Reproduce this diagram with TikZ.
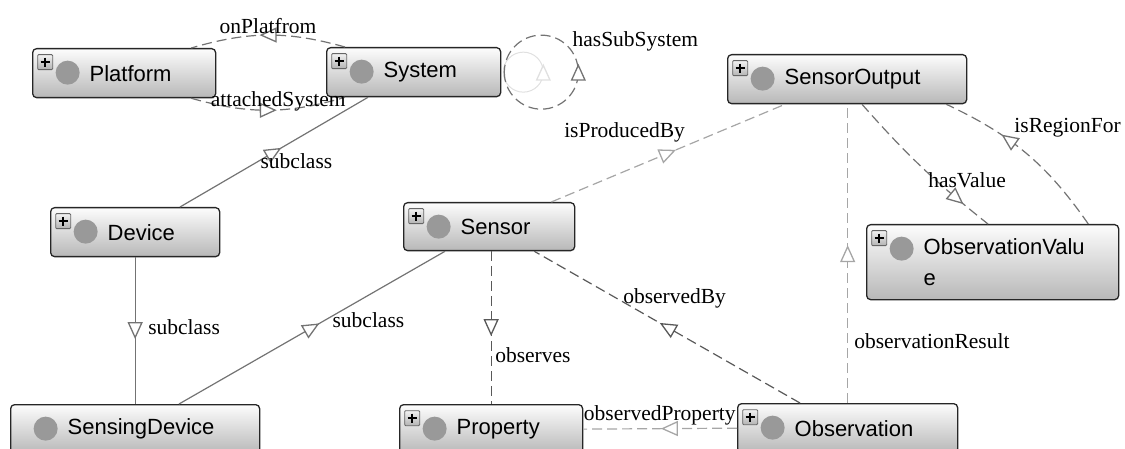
\documentclass[tikz,border=0pt]{standalone}
\usepackage{fontspec}
\setmainfont{Liberation Serif}
\setsansfont{Liberation Sans}
\usetikzlibrary{arrows.meta, decorations.markings, positioning}

\newcommand{\dotmark}{\fill[black!40] ([shift={(35pt,-24pt)}]path picture bounding box.north west) circle (12pt);}
\newcommand{\plusbox}{%
	\draw[black!60, line width=0.8pt, rounded corners=1pt, top color=black!5, bottom color=black!30]
		([shift={(5pt,-6pt)}]path picture bounding box.north west) rectangle +(15pt,-15pt);
	\draw[black, line width=1.6pt]
		([shift={(8pt,-13.5pt)}]path picture bounding box.north west) -- +(9pt,0)
		([shift={(12.5pt,-9pt)}]path picture bounding box.north west) -- +(0,-9pt);}

\begin{document}
\begin{tikzpicture}[x=1pt, y=1pt,
	cls/.style={draw=black!85, line width=1.3pt, rounded corners=4pt, top color=black!1, bottom color=black!28,
		anchor=north west, inner sep=0pt, align=left, text width=#1, minimum height=49pt,
		font=\sffamily\fontsize{22}{31}\selectfont, execute at begin node=\hspace*{57pt},
		path picture={\dotmark\plusbox}},
	lbl/.style={font=\fontsize{21.5}{24}\selectfont, inner sep=0pt, text=black},
	tri/.tip={Triangle[length=17pt 0 0, width=15pt 0 0, fill=white, line width=1.3pt 0]},
	midtri/.style={postaction={decorate, decoration={markings, mark=at position #1 with {\arrow[xshift=8.5pt]{tri}}}}},
	sol/.style={draw=black!55, line width=1.2pt},
	dk/.style={draw=black!65, line width=1.2pt, dash pattern=on 10pt off 5pt},
	md/.style={draw=black!55, line width=1.2pt, dash pattern=on 10pt off 5pt},
	lt/.style={draw=black!35, line width=1.2pt, dash pattern=on 10pt off 5pt},
	ghost/.style={draw=black!12, line width=1pt}]

	\useasboundingbox (0,0) rectangle (1125,-449);
	\clip (0,0) rectangle (1125,-449);

	% classes
	\node[cls=183pt] (plat) at (32,-48) {Platform};
	\node[cls=174pt] (sys) at (326,-47) {System};
	\node[cls=239pt] (sout) at (727,-54) {SensorOutput};
	\node[cls=252pt, minimum height=75pt] (oval) at (866,-224) {ObservationValu\\\hspace*{57pt}e};
	\node[cls=169pt] (dev) at (50,-207) {Device};
	\node[cls=171pt, minimum height=48pt] (sens) at (403,-202) {Sensor};
	\node[cls=249pt, path picture={\dotmark}] (sdev) at (10,-404) {SensingDevice};
	\node[cls=183pt] (prop) at (399,-404) {Property};
	\node[cls=220pt] (obs) at (737,-403) {Observation};

	% platform / system
	\draw[md, midtri=0.5] ([xshift=19pt]sys.north west) to[bend right=16]
		node[lbl, above=1pt] (lonp) {onPlatfrom} ([xshift=-25pt]plat.north east);
	\draw[md, midtri=0.5] ([xshift=-25pt]plat.south east) to[bend right=16]
		node[lbl, anchor=base, xshift=10pt, yshift=4pt] (latt) {attachedSystem} ([xshift=19pt]sys.south west);
	\draw[ghost, midtri=0.5] ([xshift=2pt]sys.east) arc[start angle=180, end angle=540, radius=20pt];
	\draw[md, midtri=0.5] ([xshift=3pt]sys.east) arc[start angle=180, end angle=540, radius=37pt]
		node[lbl, anchor=base west] (lsub) at (572,-47) {hasSubSystem};

	% subclass
	\draw[sol, midtri=0.5] ([xshift=130pt]dev.north west) --
		node[lbl, anchor=base west, xshift=-14pt, yshift=-16.5pt] (lsc1) {subclass} ([xshift=42pt]sys.south west);
	\draw[sol, midtri=0.5] (dev.south) --
		node[lbl, anchor=base west, xshift=12.5pt, yshift=-4pt] (lsc2) {subclass} (sdev.north);
	\draw[sol, midtri=0.5] ([xshift=169pt]sdev.north west) --
		node[lbl, anchor=base west, xshift=20pt] (lsc3) {subclass} ([xshift=42pt]sens.south west);

	% sensor
	\draw[lt, midtri=0.5] ([xshift=-24pt]sens.north east) --
		node[lbl, anchor=base west, xshift=-104.5pt, yshift=15.5pt] (lprod) {isProducedBy} ([xshift=58pt]sout.south west);
	\draw[dk, midtri=0.5] (sens.south -| prop.north) --
		node[lbl, pos=0.73, anchor=base west, xshift=3.5pt] (lobs) {observes} (prop.north);
	\draw[dk, midtri=0.5] ([xshift=63pt]obs.north west) --
		node[lbl, anchor=base west, xshift=-44.5pt, yshift=23.5pt] (lby) {observedBy} ([xshift=-41pt]sens.south east);

	% observation
	\draw[lt, midtri=0.44] (obs.west) --
		node[lbl, pos=0.44, anchor=base west, xshift=-86pt, yshift=8pt] (lprop) {observedProperty} (prop.east);
	\draw[lt, midtri=0.5] (obs.north) --
		node[lbl, pos=0.2, anchor=base west, xshift=6pt, yshift=-5pt] (lres) {observationResult} (obs.north |- sout.south);

	% sensor output
	\draw[md, midtri=0.77] ([xshift=135pt]sout.south west) to[bend right=5]
		node[lbl, pos=0.6, anchor=base west, xshift=-6pt, yshift=-9pt] (lval) {hasValue} ([xshift=122pt]oval.north west);
	\draw[md, midtri=0.62] ([xshift=-31pt]oval.north east) to[bend right=15]
		node[lbl, pos=0.62, anchor=base west, xshift=4pt, yshift=8pt] (lreg) {isRegionFor} ([xshift=-21pt]sout.south east);

\end{tikzpicture}
\end{document}
